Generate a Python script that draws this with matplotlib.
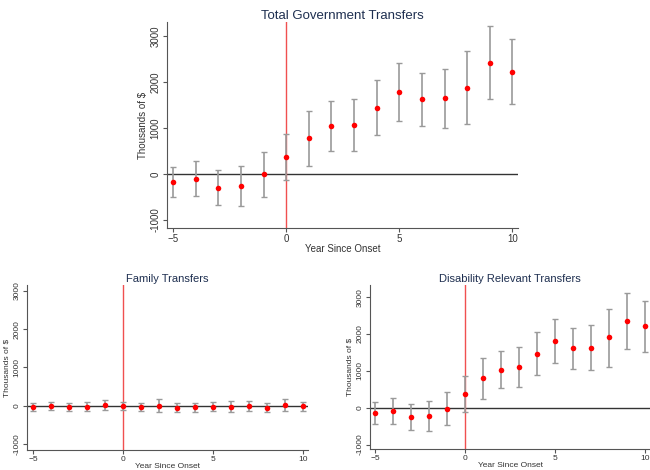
import matplotlib.pyplot as plt
import numpy as np

plt.rcParams['font.family'] = ['Liberation Sans', 'DejaVu Sans']

years = np.arange(-5, 11)

# total government transfers: estimate, upper and lower CI
total_est = [-181, -100, -297, -254, -7, 362, 775, 1043, 1065, 1435, 1775, 1623, 1645, 1870, 2420, 2225]
total_hi = [160, 283, 80, 181, 471, 870, 1377, 1594, 1630, 2036, 2406, 2196, 2290, 2667, 3210, 2935]
total_lo = [-507, -478, -674, -688, -493, -138, 181, 500, 500, 840, 1152, 1036, 993, 1080, 1638, 1515]

family_est = [-26, 0, -26, -17, 26, -9, -26, 9, -52, -35, -26, -17, 0, -43, 35, -9]
family_hi = [85, 110, 85, 95, 150, 100, 85, 170, 70, 80, 90, 120, 130, 70, 190, 110]
family_lo = [-135, -110, -135, -130, -110, -120, -135, -150, -170, -150, -140, -150, -130, -160, -130, -130]

disab_est = [-152, -89, -259, -214, -27, 366, 795, 1036, 1116, 1464, 1813, 1616, 1625, 1911, 2357, 2205]
disab_hi = [152, 268, 89, 188, 420, 848, 1357, 1536, 1643, 2045, 2402, 2161, 2250, 2688, 3125, 2893]
disab_lo = [-455, -455, -616, -643, -482, -116, 223, 527, 571, 884, 1205, 1063, 1018, 1116, 1580, 1509]

yticks = [-1000, 0, 1000, 2000, 3000]
xticks = [-5, 0, 5, 10]


def event_plot(ax, est, lo, hi, title, xlim, ylim, title_size, tick_size):
    est = np.array(est)
    err = [est - np.array(lo), np.array(hi) - est]
    ax.axhline(0, color='#333333', lw=1.0, zorder=1)
    ax.axvline(0, color='#f05050', lw=1.0, zorder=1)
    ax.errorbar(years, est, yerr=err, fmt='none', ecolor='#9a9a9a',
                elinewidth=1.2, capsize=2.5, capthick=1.0, zorder=2)
    ax.scatter(years, est, color='#ff0000', s=16, zorder=3, linewidths=0)
    ax.set_xlim(*xlim)
    ax.set_ylim(*ylim)
    ax.set_xticks(xticks)
    ax.set_yticks(yticks)
    ax.set_yticklabels([str(t) for t in yticks], rotation=90, va='center')
    for s in ['top', 'right']:
        ax.spines[s].set_visible(False)
    for s in ['left', 'bottom']:
        ax.spines[s].set_color('#555555')
        ax.spines[s].set_linewidth(0.8)
    ax.tick_params(colors='#555555', labelcolor='#333333', labelsize=tick_size,
                   length=3, width=0.8, pad=1.5)
    ax.set_title(title, fontsize=title_size, color='#1e2f50', pad=2)
    ax.set_xlabel("Year Since Onset", fontsize=tick_size, color='#333333', labelpad=0)
    ax.set_ylabel("Thousands of $", fontsize=tick_size, color='#333333', labelpad=2)


fig = plt.figure(figsize=(6.5, 4.7), dpi=100)

ax_top = fig.add_axes([0.257, 0.515, 0.540, 0.438])
event_plot(ax_top, total_est, total_lo, total_hi, "Total Government Transfers",
           (-5.27, 10.25), (-1170, 3300), 9.5, 7)

ax_fam = fig.add_axes([0.0415, 0.0426, 0.432, 0.351])
event_plot(ax_fam, family_est, family_lo, family_hi, "Family Transfers",
           (-5.33, 10.28), (-1150, 3150), 8, 6)

ax_dis = fig.add_axes([0.569, 0.0447, 0.432, 0.349])
event_plot(ax_dis, disab_est, disab_lo, disab_hi, "Disability Relevant Transfers",
           (-5.3, 10.3), (-1120, 3330), 8, 6)

fig.savefig("out.png", dpi=100)
